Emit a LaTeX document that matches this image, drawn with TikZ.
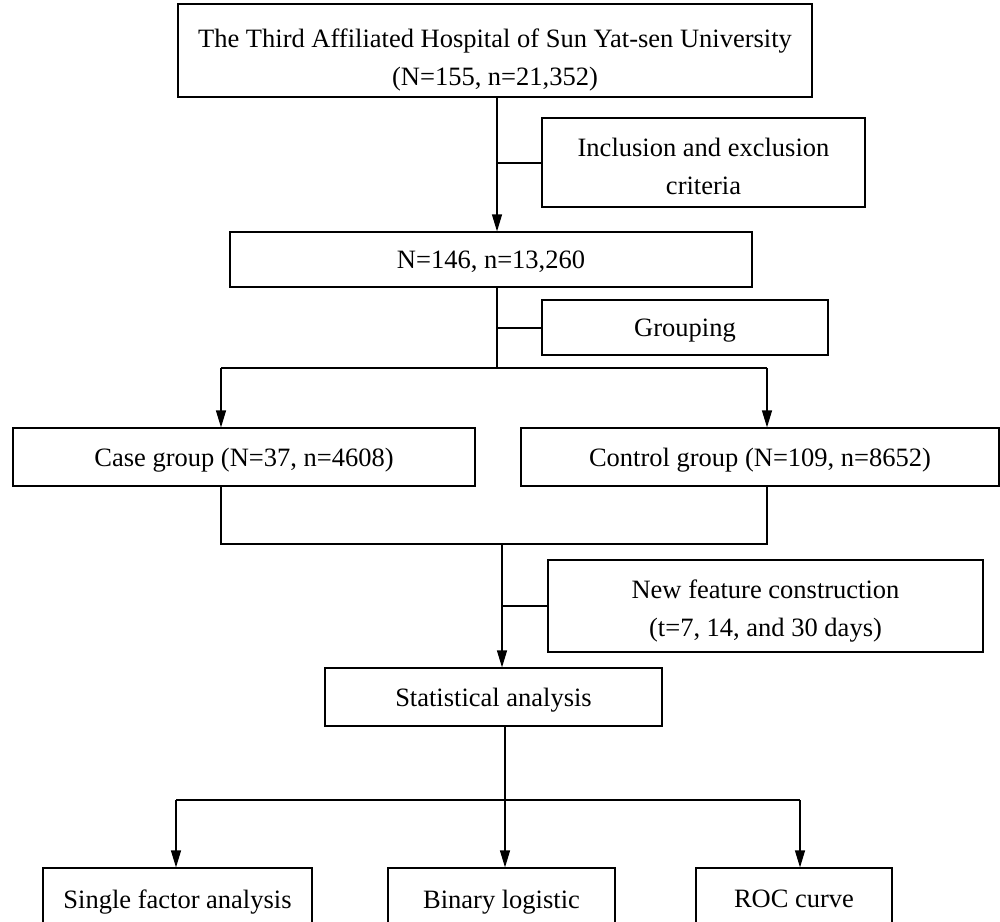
\documentclass[tikz,border=0pt]{standalone}
\usepackage{fontspec}
\setmainfont{Liberation Serif}
\usetikzlibrary{arrows.meta,calc}
\newcommand{\twolines}[3]{\raisebox{#3}[0pt][0pt]{\begin{tabular}{@{}c@{}}#1\\#2\end{tabular}}}
\begin{document}
\begin{tikzpicture}[x=1pt,y=-1pt,
 box/.style={draw,line width=1.2pt,inner sep=0pt,align=center,text depth=0pt,font=\fontsize{26.5}{38}\selectfont},
 arr/.style={-{Triangle[length=17pt,width=10pt]},line width=1.2pt},
 ln/.style={line width=1.2pt}]
\useasboundingbox (0,0) rectangle (1000,921);
\clip (0,0) rectangle (1000,921);
% boxes
\node[box,minimum width=634,minimum height=93] (top) at (495,50.5) {\twolines{The Third Affiliated Hospital of Sun Yat-sen University}{(N=155, n=21,352)}{-15pt}};
\node[box,minimum width=323,minimum height=89] (incl) at (703.5,162.5) {\twolines{Inclusion and exclusion}{criteria}{-11.5pt}};
\node[box,minimum width=522,minimum height=55] (n146) at (491,259.5) {N=146, n=13,260};
\node[box,minimum width=286,minimum height=55] (grp) at (685,327.5) {Grouping};
\node[box,minimum width=462,minimum height=58] (case) at (244,457) {Case group (N=37, n=4608)};
\node[box,minimum width=478,minimum height=58] (ctrl) at (760,457) {Control group (N=109, n=8652)};
\node[box,minimum width=435,minimum height=92] (feat) at (765.5,606) {\twolines{New feature construction}{(t=7, 14, and 30 days)}{-10pt}};
\node[box,minimum width=337,minimum height=58] (stat) at (493.5,697) {Statistical analysis};
\node[box,minimum width=269,minimum height=62] (single) at (177.5,899) {Single factor analysis};
\node[box,minimum width=227,minimum height=62] (binary) at (501.5,899) {Binary logistic};
\node[box,minimum width=196,minimum height=62] (roc) at (794,899) {ROC curve};
% junction coordinates
\coordinate (a1) at (497,97);
\coordinate (b1) at (497,163);
\coordinate (a2) at (497,287);
\coordinate (b2) at (497,328);
\coordinate (s2) at (497,368);
\coordinate (sl) at (221,368);
\coordinate (sr) at (767,368);
\coordinate (cl) at (221,486);
\coordinate (cr) at (767,486);
\coordinate (ml) at (221,544);
\coordinate (mr) at (767,544);
\coordinate (m3) at (502,544);
\coordinate (b3) at (502,606);
\coordinate (a4) at (505,726);
\coordinate (s4) at (505,800);
\coordinate (s4l) at (176,800);
\coordinate (s4r) at (800,800);
% connectors
\draw[arr] (a1) -- (a1 |- n146.north);
\draw[ln] (b1) -- (b1 -| incl.west);
\draw[ln] (a2) -- (s2);
\draw[ln] (b2) -- (b2 -| grp.west);
\draw[ln] (sl) -- (sr);
\draw[arr] (sl) -- (sl |- case.north);
\draw[arr] (sr) -- (sr |- ctrl.north);
\draw[ln] (cl) -- (ml) -- (mr) -- (cr);
\draw[arr] (m3) -- (m3 |- stat.north);
\draw[ln] (b3) -- (b3 -| feat.west);
\draw[ln] (a4) -- (s4);
\draw[ln] (s4l) -- (s4r);
\draw[arr] (s4l) -- (s4l |- single.north);
\draw[arr] (s4) -- (s4 |- binary.north);
\draw[arr] (s4r) -- (s4r |- roc.north);
\end{tikzpicture}
\end{document}
